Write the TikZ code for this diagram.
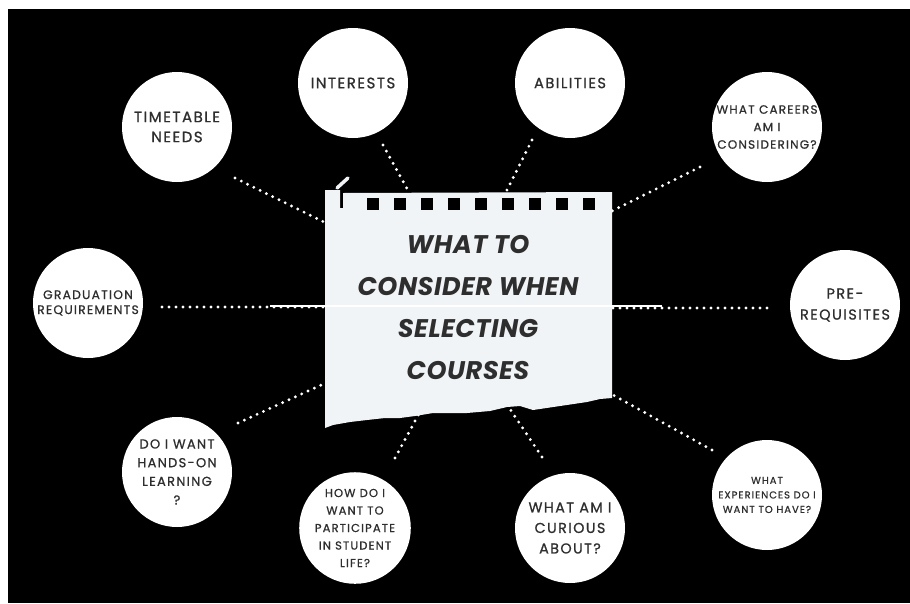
\documentclass[tikz,border=0pt]{standalone}
\usepackage{fontspec}
\setmainfont{Poppins}
\newfontfamily\circfont{Poppins}[FakeBold=0.8, LetterSpace=10]
\newfontfamily\titlefont{Poppins}[LetterSpace=2]
\definecolor{txt}{HTML}{2E2E2E}
\definecolor{paper}{HTML}{F1F4F6}
\begin{document}
\begin{tikzpicture}[x=1pt,y=-1pt,
  bubble/.style={circle, fill=white, minimum size=110pt, inner sep=0pt, align=center, text=txt},
  dots/.style={white, line width=3.2pt, line cap=round, dash pattern=on 0pt off 7pt},
  sq/.style={fill=black}]
\useasboundingbox (0,0) rectangle (910,603);
\fill[white] (0,0) rectangle (910,603);
\fill[black] (8,9) rectangle (910,603);

% circles
\node[bubble, font=\circfont\fontsize{15}{20}\selectfont] (tt) at (177,127) {TIMETABLE\\NEEDS};
\node[bubble, font=\circfont\fontsize{15}{20}\selectfont] (in) at (353,83) {INTERESTS};
\node[bubble, font=\circfont\fontsize{14.7}{20}\selectfont] (ab) at (570,83) {ABILITIES};
\node[bubble, font=\circfont\fontsize{12}{17.5}\selectfont] (ca) at (767,127) {WHAT CAREERS\\AM I\\CONSIDERING?};
\node[bubble, font=\circfont\fontsize{12.3}{15}\selectfont] (gr) at (88,303) {GRADUATION\\REQUIREMENTS};
\node[bubble, font=\circfont\fontsize{14.5}{21}\selectfont] (pr) at (845,305) {PRE-\\REQUISITES};
\node[bubble, font=\circfont\fontsize{13}{18.7}\selectfont] (ho) at (177,472) {DO I WANT\\HANDS-ON\\LEARNING\\?};
\node[bubble, font=\circfont\fontsize{11.5}{17.5}\selectfont] (sl) at (355,528) {HOW DO I\\WANT TO\\PARTICIPATE\\IN STUDENT\\LIFE?};
\node[bubble, font=\circfont\fontsize{14.3}{20.5}\selectfont] (cu) at (570,528) {WHAT AM I\\CURIOUS\\ABOUT?};
\node[bubble, font=\circfont\fontsize{10}{14.5}\selectfont] (ex) at (767,495) {WHAT\\EXPERIENCES DO I\\WANT TO HAVE?};

% connector end points
\coordinate (tt1) at (235,178); \coordinate (tt2) at (330,225);
\coordinate (in1) at (383,145); \coordinate (in2) at (410,194);
\coordinate (ab1) at (532,140); \coordinate (ab2) at (505,194);
\coordinate (ca1) at (700,167); \coordinate (ca2) at (606,214);
\coordinate (gr1) at (162,307); \coordinate (gr2) at (330,307);
\coordinate (pr1) at (767,308); \coordinate (pr2) at (606,308);
\coordinate (ho1) at (238,423); \coordinate (ho2) at (330,381);
\coordinate (sl1) at (395,458); \coordinate (sl2) at (421,410);
\coordinate (cu1) at (542,457); \coordinate (cu2) at (506,403);
\coordinate (ex1) at (712,450); \coordinate (ex2) at (606,391);

\foreach \s in {tt,in,ab,ca,gr,pr,ho,sl,cu,ex}
  \draw[dots] (\s1) -- (\s2);

% paper note
\node (note) at (468,310) [minimum width=287pt, minimum height=238pt, inner sep=0pt] {};
\fill[paper] (325,190) -- (340,190) -- (340,208) -- (343,208) -- (343,193) -- (612,192)
  -- (612,398) -- (600,399) -- (587,402) -- (560,406) -- (533,410) -- (520,406) -- (507,407)
  -- (490,411) -- (467,413) -- (433,413) -- (415,416) -- (400,418) -- (385,418) -- (367,420)
  -- (350,422) -- (333,425) -- (325,428) -- cycle;
\draw[paper, line width=3.5pt, line cap=round] (337,188) -- (348,178);
\foreach \i in {0,...,8}
  \fill[sq] (367+27*\i,198) rectangle ++(12,12);
\draw[white, line width=2pt] (270,306) -- (662,306);
\node[text=txt, align=center, font=\titlefont\fontsize{25.5}{42}\selectfont\bfseries\itshape] (title) at (468,308)
  {WHAT TO\\CONSIDER WHEN\\SELECTING\\COURSES};
\end{tikzpicture}
\end{document}
